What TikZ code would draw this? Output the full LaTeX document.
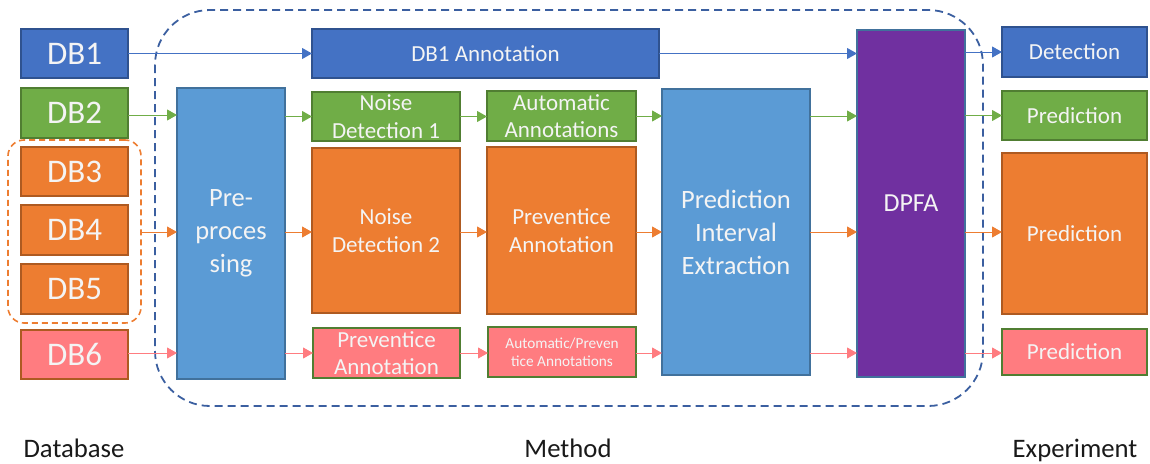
\documentclass[tikz,border=0pt]{standalone}
\usepackage{fontspec}
\setmainfont{Carlito}
\usetikzlibrary{arrows.meta}
\definecolor{cblue}{HTML}{4472C4}\definecolor{cblueB}{HTML}{2F528F}
\definecolor{cgreen}{HTML}{70AD47}\definecolor{cgreenB}{HTML}{507E32}
\definecolor{corange}{HTML}{ED7D31}\definecolor{corangeB}{HTML}{AE5A21}
\definecolor{cpink}{HTML}{FF7C80}
\definecolor{clblue}{HTML}{5B9BD5}\definecolor{clblueB}{HTML}{41719C}
\definecolor{cpurple}{HTML}{7030A0}
\definecolor{cframe}{HTML}{3B5FA0}
\definecolor{ctext}{HTML}{F4F4F4}
\tikzset{
  box/.style={rectangle, inner sep=0pt, outer sep=0pt, line width=1.3pt, text=ctext, align=center},
  bluebox/.style={box, fill=cblue, draw=cblueB},
  greenbox/.style={box, fill=cgreen, draw=cgreenB},
  orangebox/.style={box, fill=corange, draw=corangeB},
  pinkbox/.style={box, fill=cpink, draw=cgreenB},
  pinkoboxx/.style={box, fill=cpink, draw=corangeB},
  lbluebox/.style={box, fill=clblue, draw=clblueB},
  purplebox/.style={box, fill=cpurple, draw=clblueB},
  dbfont/.style={font=\fontsize{33}{36}\selectfont},
  mfont/.style={font=\fontsize{23}{27.5}\selectfont},
  bfont/.style={font=\fontsize{26.5}{33}\selectfont},
  sfont/.style={font=\fontsize{15.3}{18.5}\selectfont},
  conn/.style={line width=1pt, -{Triangle[length=10pt,width=11pt]}},
  labeltext/.style={font=\fontsize{26.7}{30}\selectfont, text=black!90, inner sep=0pt, anchor=base, text depth=0pt},
}
\begin{document}
\begin{tikzpicture}[x=1pt,y=-1pt]
\useasboundingbox (0,0) rectangle (1150,463);
% frames
\draw[cframe, line width=1.8pt, dash pattern=on 8pt off 5pt, rounded corners=55pt] (155,10) rectangle (983,406);
\node[draw=corange, line width=1.6pt, dash pattern=on 6pt off 4pt, rounded corners=16pt, minimum width=133pt, minimum height=183pt, inner sep=0pt] (grp) at (74.5,231.5) {};
% database
\node[bluebox, dbfont, minimum width=107pt, minimum height=49pt] (db1) at (74.5,53.5) {DB1};
\node[greenbox, dbfont, minimum width=107pt, minimum height=50pt] (db2) at (74.5,113) {DB2};
\node[orangebox, dbfont, minimum width=107pt, minimum height=49pt] (db3) at (74.5,171.5) {DB3};
\node[orangebox, dbfont, minimum width=107pt, minimum height=50pt] (db4) at (74.5,230) {DB4};
\node[orangebox, dbfont, minimum width=107pt, minimum height=50pt] (db5) at (74.5,289) {DB5};
\node[pinkoboxx, dbfont, minimum width=107pt, minimum height=49pt] (db6) at (74.5,354.5) {DB6};
% method
\node[lbluebox, bfont, minimum width=108pt, minimum height=291pt] (pre) at (231,233.5) {Pre-\\proces\\sing};
\node[bluebox, mfont, minimum width=347pt, minimum height=49pt] (ann1) at (485.5,53.5) {DB1 Annotation};
\node[greenbox, mfont, minimum width=148pt, minimum height=49pt] (nd1) at (386,116.5) {Noise\\Detection 1};
\node[orangebox, mfont, minimum width=148pt, minimum height=165pt] (nd2) at (386,230.5) {Noise\\Detection 2};
\node[pinkbox, mfont, minimum width=147pt, minimum height=50pt] (pap) at (386.5,353) {Preventice\\Annotation};
\node[greenbox, mfont, minimum width=149pt, minimum height=50pt] (aa) at (561.5,116) {Automatic\\Annotations};
\node[orangebox, mfont, minimum width=149pt, minimum height=167pt] (pao) at (561.5,230.5) {Preventice\\Annotation};
\node[pinkbox, sfont, minimum width=148pt, minimum height=50pt] (apa) at (562,352) {Automatic/Preven\\tice Annotations};
\node[lbluebox, bfont, minimum width=148pt, minimum height=286pt] (pie) at (736,232) {Prediction\\Interval\\Extraction};
\node[purplebox, font=\fontsize{26}{30}\selectfont, minimum width=108pt, minimum height=347pt] (dpfa) at (911,203.5) {DPFA};
% experiment
\node[bluebox, mfont, minimum width=145pt, minimum height=50pt] (det) at (1074.5,52) {Detection};
\node[greenbox, mfont, minimum width=145pt, minimum height=49pt] (prg) at (1074.5,115.5) {Prediction};
\node[orangebox, mfont, minimum width=145pt, minimum height=161pt] (pro) at (1074.5,233.5) {Prediction};
\node[pinkbox, mfont, minimum width=145pt, minimum height=46pt] (prp) at (1074.5,352) {Prediction};
% labels
\node[labeltext] (lbdb) at (74,457) {Database};
\node[labeltext] (lbm) at (568,457) {Method};
\node[labeltext, text depth=5pt] (lbe) at (1075,457) {Experiment};
% connectors blue
\draw[conn, cblue] (db1.east) -- (ann1.west |- db1.east);
\draw[conn, cblue] (ann1.east) -- (dpfa.west |- ann1.east);
\draw[conn, cblue] (dpfa.east |- det.west) -- (det.west);
% green
\coordinate (gy) at (0,115);
\draw[conn, cgreen] (db2.east |- gy) -- (pre.west |- gy);
\draw[conn, cgreen] (pre.east |- nd1.west) -- (nd1.west);
\draw[conn, cgreen] (nd1.east) -- (aa.west |- nd1.east);
\draw[conn, cgreen] (aa.east) -- (pie.west |- aa.east);
\draw[conn, cgreen] (pie.east |- aa.east) -- (dpfa.west |- aa.east);
\draw[conn, cgreen] (dpfa.east |- prg.west) -- (prg.west);
% orange
\coordinate (oy) at (0,232);
\draw[conn, corange] (grp.east |- oy) -- (pre.west |- oy);
\draw[conn, corange] (pre.east |- oy) -- (nd2.west |- oy);
\draw[conn, corange] (nd2.east |- oy) -- (pao.west |- oy);
\draw[conn, corange] (pao.east |- oy) -- (pie.west |- oy);
\draw[conn, corange] (pie.east |- oy) -- (dpfa.west |- oy);
\draw[conn, corange] (dpfa.east |- oy) -- (pro.west |- oy);
% pink
\coordinate (py) at (0,353);
\draw[conn, cpink] (db6.east |- py) -- (pre.west |- py);
\draw[conn, cpink] (pre.east |- py) -- (pap.west |- py);
\draw[conn, cpink] (pap.east |- py) -- (apa.west |- py);
\draw[conn, cpink] (apa.east |- py) -- (pie.west |- py);
\draw[conn, cpink] (pie.east |- py) -- (dpfa.west |- py);
\draw[conn, cpink] (dpfa.east |- py) -- (prp.west |- py);
\end{tikzpicture}
\end{document}
